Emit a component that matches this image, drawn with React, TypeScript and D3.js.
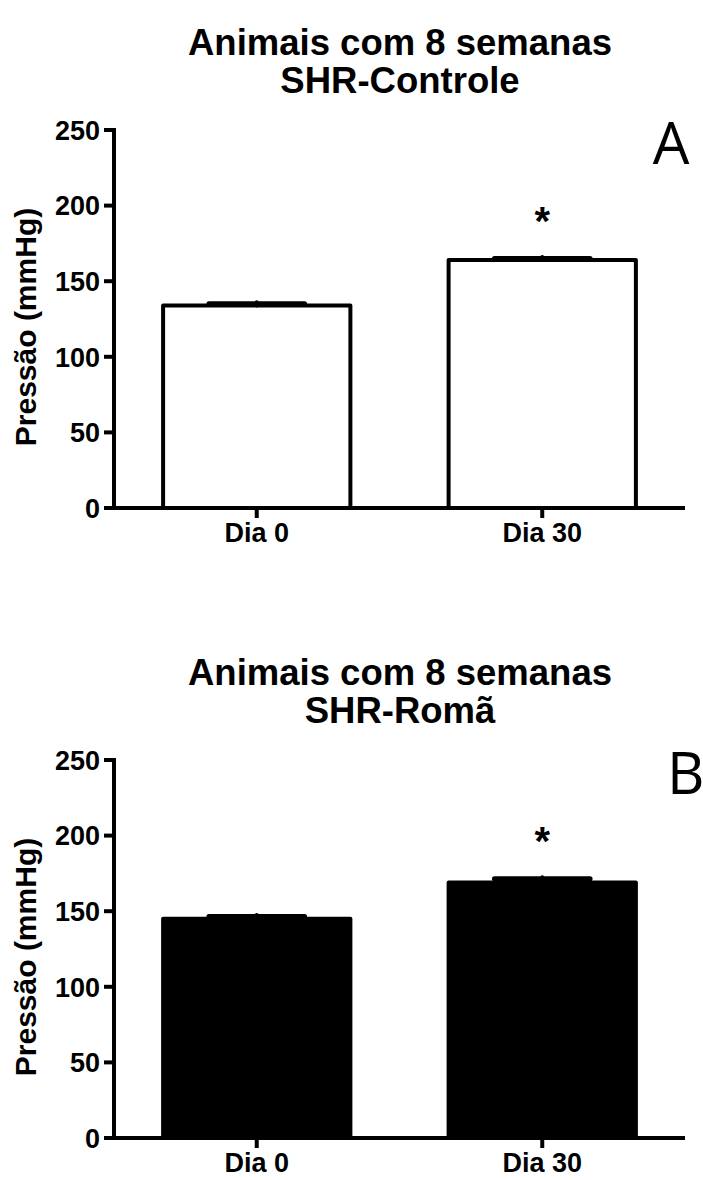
import React from 'react';
import * as d3 from 'd3';

const categories = ['Dia 0', 'Dia 30'];
const yTicks = [0, 50, 100, 150, 200, 250];

// painel A: SHR-Controle
const controleMean = [134, 164];
const controleSem = [2, 2];
// painel B: SHR-Romã
const romaMean = [145, 169];
const romaSem = [2.5, 3.5];

const W = 703, H = 1180;

type PanelProps = {
    top: number;
    title: string[];
    letter: string;
    letterX: number;
    letterAnchor: string;
    means: number[];
    sems: number[];
    filled: boolean;
    sig: boolean[];
};

const font = 'Arial, "Liberation Sans", Helvetica, sans-serif';

const Panel = ({ top, title, letter, letterX, letterAnchor, means, sems, filled, sig }: PanelProps) => {
    const margin = { left: 114, right: 685 };
    const y = d3.scaleLinear().domain([0, 250]).range([top + 378, top]);
    const x = d3.scaleBand().domain(categories).range([margin.left, margin.right]).paddingInner(0.33).paddingOuter(0.165);
    const bw = x.bandwidth();
    const sw = 4;
    return (
        <g>
            {title.map((t, i) => (
                <text key={t} x={400} y={top - 75 + i * 38} textAnchor="middle" fontFamily={font} fontWeight="bold" fontSize={36.5}>{t}</text>
            ))}
            <text x={letterX} y={top + 34} textAnchor={letterAnchor} fontFamily='"Open Sans", sans-serif' fontSize={58}>{letter}</text>
            {/* barras */}
            {means.map((m, i) => (
                <rect key={'b' + i}
                    x={x(categories[i])! + sw / 2} width={bw - sw}
                    y={y(m)} height={y(0) - y(m)}
                    fill={filled ? '#000' : '#fff'} stroke="#000" strokeWidth={sw} strokeLinejoin="round" />
            ))}
            {/* erro padrão */}
            {means.map((m, i) => {
                const cx = x(categories[i])! + bw / 2;
                return (
                    <g key={'e' + i} stroke="#000" strokeLinecap="round">
                        <line x1={cx} x2={cx} y1={y(m)} y2={y(m + sems[i])} strokeWidth={4} />
                        <line x1={cx - bw / 4} x2={cx + bw / 4} y1={y(m + sems[i]) + 1.5} y2={y(m + sems[i]) + 1.5} strokeWidth={5} />
                    </g>
                );
            })}
            {sig.map((s, i) => s ? (
                <text key={'s' + i} x={x(categories[i])! + bw / 2} y={y(means[i] + sems[i]) - 22} textAnchor="middle" fontFamily={font} fontWeight="bold" fontSize={40}>*</text>
            ) : null)}
            {/* eixo y */}
            <line x1={margin.left} x2={margin.left} y1={y(250) - 2} y2={y(0) + 2} stroke="#000" strokeWidth={4} />
            {yTicks.map(t => (
                <g key={t}>
                    <line x1={margin.left - 10} x2={margin.left} y1={y(t)} y2={y(t)} stroke="#000" strokeWidth={4} />
                    <text x={margin.left - 14} y={y(t)} dy="0.36em" textAnchor="end" fontFamily={font} fontWeight="bold" fontSize={27}>{t}</text>
                </g>
            ))}
            {/* eixo x */}
            <line x1={margin.left} x2={margin.right} y1={y(0)} y2={y(0)} stroke="#000" strokeWidth={4} />
            {categories.map(c => (
                <g key={c}>
                    <line x1={x(c)! + bw / 2} x2={x(c)! + bw / 2} y1={y(0)} y2={y(0) + 10} stroke="#000" strokeWidth={4} />
                    <text x={x(c)! + bw / 2} y={y(0) + 34} textAnchor="middle" fontFamily={font} fontWeight="bold" fontSize={27}>{c}</text>
                </g>
            ))}
            <text transform={`translate(36,${(y(0) + y(250)) / 2 + 8}) rotate(-90)`} textAnchor="middle" fontFamily={font} fontWeight="bold" fontSize={30}>Pressão (mmHg)</text>
        </g>
    );
};

export default function App() {
    return (
        <div style={{ position: 'absolute', left: 0, top: 0 }}>
            <svg width={W} height={H} style={{ display: 'block', background: '#fff' }}>
                <rect width={W} height={H} fill="#fff" />
                <Panel top={130} title={['Animais com 8 semanas', 'SHR-Controle']} letter="A" letterX={671} letterAnchor="middle"
                    means={controleMean} sems={controleSem} filled={false} sig={[false, true]} />
                <Panel top={760} title={['Animais com 8 semanas', 'SHR-Romã']} letter="B" letterX={667} letterAnchor="start"
                    means={romaMean} sems={romaSem} filled={true} sig={[false, true]} />
            </svg>
        </div>
    );
}
